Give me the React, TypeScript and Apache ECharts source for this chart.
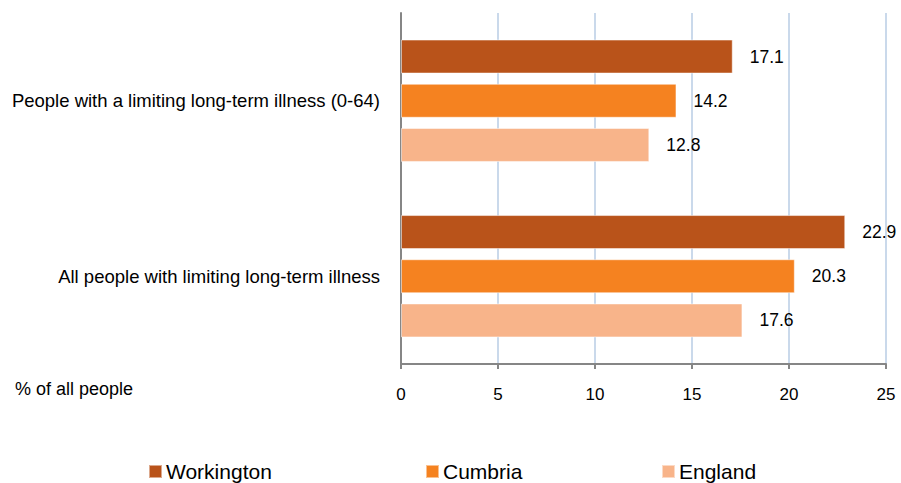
import React, { useEffect, useRef } from "react";
import * as echarts from "echarts";

const categories = [
  "All people with limiting long-term illness",
  "People with a limiting long-term illness (0-64)",
];
const seriesNames = ["Workington", "Cumbria", "England"];
const workington = [22.9, 17.1];
const cumbria = [20.3, 14.2];
const england = [17.6, 12.8];
const xTicks = [0, 5, 10, 15, 20, 25];
const axisTitle = "% of all people";

const colors = ["#B9531A", "#F58220", "#F8B48A"];
const FONT = "'Liberation Sans', Arial, sans-serif";

export default function App() {
  const ref = useRef<HTMLDivElement>(null);
  useEffect(() => {
    if (!ref.current) return;
    const chart = echarts.init(ref.current, null, { renderer: "svg" });
    const values = [workington, cumbria, england];
    const legendLefts = [148, 425, 661];
    chart.setOption({
      animation: false,
      textStyle: { fontFamily: FONT },
      grid: { left: 401, right: 15, top: 13, bottom: 119, containLabel: false },
      xAxis: {
        type: "value",
        min: xTicks[0],
        max: xTicks[xTicks.length - 1],
        interval: 5,
        axisLine: { show: true, lineStyle: { color: "#868686", width: 2 } },
        axisTick: { show: true, length: 5, lineStyle: { color: "#868686", width: 2 } },
        splitLine: { show: true, lineStyle: { color: "#B9CDE5", width: 1.5 } },
        axisLabel: { color: "#000", fontSize: 17, margin: 22, fontFamily: FONT },
      },
      yAxis: {
        type: "category",
        data: categories,
        axisLine: { show: true, lineStyle: { color: "#868686", width: 2 } },
        axisTick: { show: false },
        axisLabel: { color: "#000", fontSize: 18.5, margin: 21, fontFamily: FONT },
      },
      legend: seriesNames.map((n, i) => ({
        data: [n],
        left: legendLefts[i],
        top: 461,
        icon: "rect",
        itemWidth: 13,
        itemHeight: 13,
        itemGap: 0,
        textStyle: { fontSize: 21, color: "#000", fontFamily: FONT, padding: [0, 0, 0, -1] },
        padding: 0,
      })),
      graphic: [
        {
          type: "text",
          left: 15,
          top: 380,
          style: { text: axisTitle, fontSize: 18, fill: "#000", fontFamily: FONT },
        },
      ],
      series: seriesNames.map((n, i) => ({
        name: n,
        type: "bar",
        data: values[i],
        barWidth: 34,
        barGap: "30%",
        itemStyle: { color: colors[i], borderColor: "rgba(255,255,255,0.5)", borderWidth: 1 },
        label: {
          show: true,
          position: "right",
          distance: 17,
          fontSize: 17.5,
          color: "#000",
          fontFamily: FONT,
          formatter: (p: any) => p.value.toFixed(1),
        },
      })),
    });
    return () => chart.dispose();
  }, []);
  return (
    <div
      ref={ref}
      style={{ position: "absolute", left: 0, top: 0, width: 901, height: 483 }}
    />
  );
}
